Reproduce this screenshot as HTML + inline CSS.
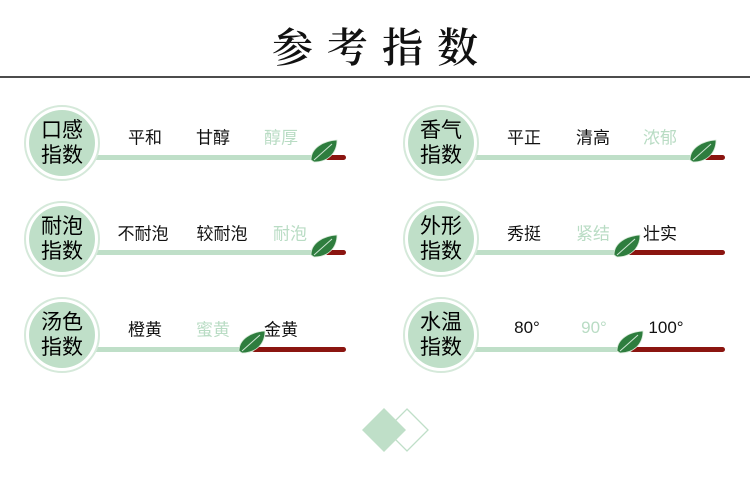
<!DOCTYPE html>
<html><head><meta charset="utf-8"><style>
body{margin:0;width:750px;height:479px;background:#fff;position:relative;overflow:hidden;font-family:"Liberation Sans","Noto Sans CJK SC",sans-serif}
.t{position:absolute;font-size:17px;color:#111;transform:translate(-50%,-50%);white-space:nowrap}
.l{color:#b9dcc4}
.c{position:absolute;font-size:21px;line-height:25px;color:#000;transform:translate(-50%,-50%);text-align:center}
h1{position:absolute;left:0;width:750px;top:15px;margin:0;text-align:center;font-family:"Noto Serif CJK SC",serif;font-size:41px;font-weight:600;letter-spacing:14px;text-indent:14px;color:#111}
</style></head><body>
<h1>参考指数</h1>
<svg width="750" height="479" style="position:absolute;left:0;top:0">
<defs>
<g id="leaf"><path d="M-12,7 C-12,-5 0,-12 14,-13 C14,0 5,9 -9,9 Z" fill="#2e7d3e" stroke="#d8ead9" stroke-width="0.8"/><path d="M-9,7 L9,-9" stroke="#cfe6d4" stroke-width="1"/></g>
<g id="circ"><circle r="37" fill="#fff" stroke="#d5e9da" stroke-width="2"/><circle r="33" fill="#bfdfc8"/></g>
</defs>
<line x1="0" y1="77" x2="750" y2="77" stroke="#111" stroke-width="1.5"/>
<rect x="95" y="155" width="230" height="5" fill="#bfdfc8"/><rect x="325" y="155" width="21" height="5" rx="2.5" fill="#8b1510"/>
<rect x="95" y="250" width="230" height="5" fill="#bfdfc8"/><rect x="325" y="250" width="21" height="5" rx="2.5" fill="#8b1510"/>
<rect x="95" y="347" width="160" height="5" fill="#bfdfc8"/><rect x="252" y="347" width="94" height="5" rx="2.5" fill="#8b1510"/>
<rect x="474" y="155" width="230" height="5" fill="#bfdfc8"/><rect x="704" y="155" width="21" height="5" rx="2.5" fill="#8b1510"/>
<rect x="474" y="250" width="156" height="5" fill="#bfdfc8"/><rect x="628" y="250" width="97" height="5" rx="2.5" fill="#8b1510"/>
<rect x="474" y="347" width="158" height="5" fill="#bfdfc8"/><rect x="630" y="347" width="95" height="5" rx="2.5" fill="#8b1510"/>
<use href="#leaf" x="323" y="153"/><use href="#leaf" x="323" y="248"/><use href="#leaf" x="251" y="344"/>
<use href="#leaf" x="702" y="153"/><use href="#leaf" x="626" y="248"/><use href="#leaf" x="629" y="344"/>
<use href="#circ" x="62" y="143"/><use href="#circ" x="62" y="239"/><use href="#circ" x="62" y="335"/>
<use href="#circ" x="441" y="143"/><use href="#circ" x="441" y="239"/><use href="#circ" x="441" y="335"/>
<polygon points="407,409 428,430 407,451 386,430" fill="none" stroke="#bfdfc8" stroke-width="1.3"/>
<polygon points="384,408 406,430 384,452 362,430" fill="#bfdfc8"/>
</svg>
<div class="c" style="left:62px;top:143px">口感<br>指数</div>
<div class="c" style="left:62px;top:239px">耐泡<br>指数</div>
<div class="c" style="left:62px;top:335px">汤色<br>指数</div>
<div class="c" style="left:441px;top:143px">香气<br>指数</div>
<div class="c" style="left:441px;top:239px">外形<br>指数</div>
<div class="c" style="left:441px;top:335px">水温<br>指数</div>
<div class="t" style="left:145px;top:136px">平和</div><div class="t" style="left:213px;top:136px">甘醇</div><div class="t l" style="left:281px;top:136px">醇厚</div>
<div class="t" style="left:143px;top:232px">不耐泡</div><div class="t" style="left:222px;top:232px">较耐泡</div><div class="t l" style="left:290px;top:232px">耐泡</div>
<div class="t" style="left:145px;top:328px">橙黄</div><div class="t l" style="left:213px;top:328px">蜜黄</div><div class="t" style="left:281px;top:328px">金黄</div>
<div class="t" style="left:524px;top:136px">平正</div><div class="t" style="left:593px;top:136px">清高</div><div class="t l" style="left:660px;top:136px">浓郁</div>
<div class="t" style="left:524px;top:232px">秀挺</div><div class="t l" style="left:593px;top:232px">紧结</div><div class="t" style="left:660px;top:232px">壮实</div>
<div class="t" style="left:527px;top:328px">80°</div><div class="t l" style="left:594px;top:328px">90°</div><div class="t" style="left:666px;top:328px">100°</div>
</body></html>
